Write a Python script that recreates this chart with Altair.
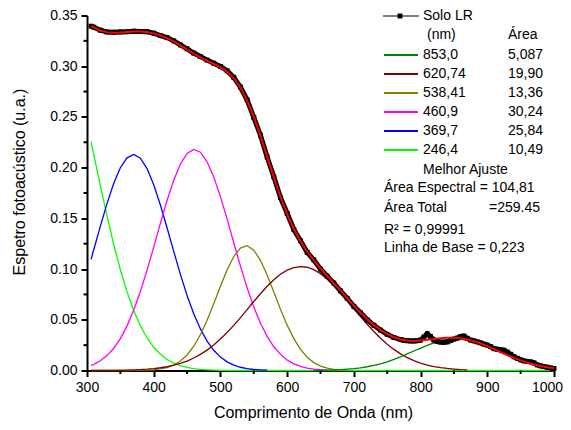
import altair as alt
import pandas as pd

FONT = "Liberation Sans"
W, H = 467, 355

# wavelength grid (nm)
wl = [306, 310, 320, 330, 340, 350, 360, 370, 380, 390, 400, 410, 420, 430, 440, 450,
      460, 470, 480, 490, 500, 510, 520, 530, 540, 550, 560, 570, 580, 590, 600, 610,
      620, 630, 640, 650, 660, 670, 680, 690, 700, 710, 720, 730, 740, 750, 760, 770,
      780, 790, 800, 810, 820, 830, 840, 850, 860, 870, 880, 890, 900, 910, 920, 930,
      940, 950, 960, 970, 980, 990, 1000]

N = None
# Gaussian components
g246 = [0.2256, 0.2133, 0.1823, 0.1524, 0.1245, 0.0993, 0.0775, 0.0591, 0.0441, 0.0321,
        0.0229, 0.0159, 0.0108, 0.0072, 0.0047, 0.0030, 0.0018, 0.0011, 0.0007, 0.0004,
        0.0002, 0.0001] + [0.0] * 49
g369 = [0.1095, 0.1188, 0.1421, 0.1645, 0.1843, 0.1999, 0.2097, 0.2130, 0.2093, 0.1991,
        0.1832, 0.1632, 0.1407, 0.1174, 0.0948, 0.0740, 0.0560, 0.0410, 0.0290, 0.0199,
        0.0132, 0.0085, 0.0053, 0.0032, 0.0018, 0.0010, 0.0006, 0.0003] + [N] * 43
g460 = [0.0050, 0.0061, 0.0096, 0.0147, 0.0219, 0.0315, 0.0440, 0.0594, 0.0779, 0.0989,
        0.1217, 0.1451, 0.1676, 0.1876, 0.2035, 0.2140, 0.2180, 0.2152, 0.2058, 0.1908,
        0.1714, 0.1492, 0.1259, 0.1029, 0.0815, 0.0626, 0.0465, 0.0336, 0.0234, 0.0159,
        0.0104, 0.0066, 0.0041, 0.0024, 0.0014, 0.0008, 0.0004] + [N] * 34
g538 = [0.0, 0.0, 0.0, 0.0, 0.0, 0.0, 0.0, 0.0001, 0.0001, 0.0003,
        0.0007, 0.0015, 0.0029, 0.0054, 0.0093, 0.0153, 0.0239, 0.0353, 0.0495, 0.0659,
        0.0830, 0.0992, 0.1124, 0.1207, 0.1230, 0.1187, 0.1086, 0.0942, 0.0775, 0.0605,
        0.0447, 0.0314, 0.0208, 0.0131, 0.0078, 0.0044, 0.0024, 0.0012, 0.0006, 0.0003] + [N] * 31
g620 = [0.0, 0.0, 0.0001, 0.0001, 0.0001, 0.0002, 0.0004, 0.0006, 0.0009, 0.0013,
        0.0019, 0.0027, 0.0037, 0.0052, 0.0070, 0.0093, 0.0123, 0.0159, 0.0201, 0.0252,
        0.0310, 0.0374, 0.0445, 0.0521, 0.0600, 0.0680, 0.0757, 0.0830, 0.0895, 0.0949,
        0.0990, 0.1015, 0.1025, 0.1018, 0.0994, 0.0955, 0.0903, 0.0839, 0.0768, 0.0691,
        0.0611, 0.0532, 0.0456, 0.0384, 0.0318, 0.0259, 0.0208, 0.0164, 0.0127, 0.0097,
        0.0073, 0.0054, 0.0039, 0.0028, 0.0020, 0.0014, 0.0009, 0.0006] + [N] * 13
g853 = [N] * 34 + [0.0001, 0.0002, 0.0003, 0.0005, 0.0008, 0.0013, 0.0018, 0.0026, 0.0037,
        0.0050, 0.0066, 0.0086, 0.0109, 0.0135, 0.0163, 0.0192, 0.0221, 0.0248, 0.0272,
        0.0291, 0.0304, 0.0310, 0.0308, 0.0299, 0.0284, 0.0263, 0.0237, 0.0210, 0.0180,
        0.0152, 0.0124, 0.0100, 0.0078, 0.0059, 0.0044, 0.0032, 0.0023]

# best fit (red)
fit = [0.3395, 0.3382, 0.3350, 0.3336, 0.3330, 0.3332, 0.3338, 0.3342, 0.3343, 0.3337,
       0.3324, 0.3304, 0.3277, 0.3245, 0.3205, 0.3163, 0.3124, 0.3087, 0.3052, 0.3022,
       0.2988, 0.2944, 0.2881, 0.2789, 0.2663, 0.2503, 0.2314, 0.2111, 0.1905, 0.1713,
       0.1541, 0.1395, 0.1274, 0.1173, 0.1086, 0.1007, 0.0934, 0.0858, 0.0790, 0.0715,
       0.0640, 0.0570, 0.0505, 0.0448, 0.0398, 0.0358, 0.0328, 0.0306, 0.0295, 0.0292,
       0.0296, 0.0303, 0.0311, 0.0319, 0.0324, 0.0324, 0.0317, 0.0305, 0.0288, 0.0266,
       0.0239, 0.0211, 0.0180, 0.0152, 0.0124, 0.0100, 0.0078, 0.0059, 0.0044, 0.0032,
       0.0023]

# measured spectrum "Solo LR"
data_wl = [306, 310, 320, 330, 340, 350, 360, 370, 380, 390, 400, 410, 420, 430, 440, 450,
           460, 470, 480, 490, 500, 510, 520, 530, 540, 550, 560, 570, 580, 590, 600, 610,
           620, 630, 640, 650, 660, 670, 680, 690, 700, 710, 720, 730, 740, 750, 760, 770,
           775, 780, 785, 790, 795, 800, 805, 810, 815, 820, 825, 830, 835, 840, 845, 850,
           855, 860, 865, 870, 875, 880, 885, 890, 895, 900, 905, 910, 915, 920, 925, 930,
           935, 940, 945, 950, 955, 960, 965, 970, 975, 980, 985, 990, 995, 1000]
data_val = [0.3395, 0.3385, 0.3355, 0.3338, 0.3335, 0.3338, 0.3340, 0.3345, 0.3342, 0.3340,
            0.3326, 0.3302, 0.3282, 0.3250, 0.3210, 0.3172, 0.3130, 0.3095, 0.3060, 0.3030,
            0.2998, 0.2955, 0.2890, 0.2795, 0.2668, 0.2495, 0.2320, 0.2105, 0.1910, 0.1705,
            0.1550, 0.1390, 0.1280, 0.1165, 0.1090, 0.1000, 0.0930, 0.0862, 0.0785, 0.0712,
            0.0632, 0.0568, 0.0500, 0.0446, 0.0398, 0.0356, 0.0325, 0.0305,
            0.0298, 0.0294, 0.0292, 0.0292, 0.0294, 0.0300, 0.0330, 0.0362, 0.0335, 0.0300,
            0.0285, 0.0280, 0.0278, 0.0282, 0.0295, 0.0310, 0.0320, 0.0335, 0.0340, 0.0318,
            0.0300, 0.0292, 0.0282, 0.0272, 0.0260, 0.0250, 0.0235, 0.0215, 0.0210, 0.0205,
            0.0200, 0.0182, 0.0160, 0.0135, 0.0120, 0.0105, 0.0095, 0.0090, 0.0085, 0.0075,
            0.0055, 0.0045, 0.0038, 0.0032, 0.0025, 0.0020]

x_ticks = [300, 400, 500, 600, 700, 800, 900, 1000]
x_minor = [350, 450, 550, 650, 750, 850, 950]
y_ticks = [0.0, 0.05, 0.10, 0.15, 0.20, 0.25, 0.30, 0.35]
y_minor = [0.025, 0.075, 0.125, 0.175, 0.225, 0.275, 0.325]

peaks = ["853,0", "620,74", "538,41", "460,9", "369,7", "246,4"]
areas = ["5,087", "19,90", "13,36", "30,24", "25,84", "10,49"]
colors = ["#008000", "#800000", "#808000", "#FF00FF", "#0000FF", "#00FF00"]

xs = alt.Scale(domain=[300, 1000], nice=False, zero=False)
ys = alt.Scale(domain=[0, 0.35], nice=False, zero=False)

common = dict(domainColor="black", domainWidth=2, tickColor="black", tickWidth=2,
              tickSize=6, labelFont=FONT, labelFontSize=14, labelColor="black",
              titleFont=FONT, titleFontSize=16, titleFontWeight="normal",
              titleColor="black", grid=False, labelFlush=False, labelOverlap=False)
xaxis = alt.Axis(values=x_ticks, format="d", title="Comprimento de Onda (nm)",
                 labelPadding=4, titleX=226, titleY=34,
                 labelOffset={"condition": {"test": "datum.value == 1000", "value": -7},
                              "value": 0},
                 **common)
yaxis = alt.Axis(values=y_ticks, format=".2f", title="Espetro fotoacústico (u.a.)",
                 labelPadding=4, titleX=-60, titleY=166, **common)


def xenc(f):
    return alt.X(f, scale=xs, axis=xaxis)


def yenc(f):
    return alt.Y(f, scale=ys, axis=yaxis)


def comp(vals, color):
    df = pd.DataFrame({"wl": wl, "v": vals}).dropna()
    return alt.Chart(df).mark_line(color=color, strokeWidth=1.3).encode(
        x=xenc("wl:Q"), y=yenc("v:Q"))


layers = [
    comp(g246, "#00FF00"),
    comp(g369, "#0000FF"),
    comp(g460, "#FF00FF"),
    comp(g538, "#808000"),
    comp(g620, "#800000"),
    comp(g853, "#008000"),
]

ddf = pd.DataFrame({"wl": data_wl, "v": data_val})
layers.append(alt.Chart(ddf).mark_line(color="black", strokeWidth=5).encode(
    x=xenc("wl:Q"), y=yenc("v:Q")))
layers.append(alt.Chart(ddf).mark_square(color="black", size=24, opacity=1).encode(
    x=xenc("wl:Q"), y=yenc("v:Q")))

fdf = pd.DataFrame({"wl": wl, "v": fit})
layers.append(alt.Chart(fdf).mark_line(color="#FF0000", strokeWidth=2).encode(
    x=xenc("wl:Q"), y=yenc("v:Q")))

# minor ticks
layers.append(alt.Chart(pd.DataFrame({"m": x_minor})).mark_rule(color="black", strokeWidth=2).encode(
    x=xenc("m:Q"), y=alt.value(H), y2=alt.value(H + 3.5)))
layers.append(alt.Chart(pd.DataFrame({"m": y_minor})).mark_rule(color="black", strokeWidth=2).encode(
    y=yenc("m:Q"), x=alt.value(-3.5), x2=alt.value(0)))

# legend block
row_y = [39.5, 58.5, 77.5, 96.5, 115.5, 134.5]
leg_lines = pd.DataFrame({"x1": [297] * 6, "x2": [331] * 6, "y": row_y, "c": colors})
layers.append(alt.Chart(leg_lines).mark_rule(strokeWidth=2).encode(
    x=alt.X("x1:Q", scale=None), x2="x2:Q", y=alt.Y("y:Q", scale=None),
    color=alt.Color("c:N", scale=None)))
layers.append(alt.Chart(pd.DataFrame({"a": [0]})).mark_rule(color="black", strokeWidth=1).encode(
    x=alt.value(296), x2=alt.value(332), y=alt.value(0.5)))
layers.append(alt.Chart(pd.DataFrame({"a": [0]})).mark_square(color="black", size=25, opacity=1).encode(
    x=alt.value(313), y=alt.value(0.5)))

texts = (["Solo LR", "(nm)", "Área"] + peaks + areas +
         ["Melhor Ajuste", "Área Espectral = 104,81", "Área Total", "=259.45",
          "R² = 0,99991", "Linha de Base = 0,223"])
tx = [336, 340, 421] + [336] * 6 + [421] * 6 + [336, 297, 297, 402, 297, 297]
ty = [0.5, 19.5, 19.5] + row_y + row_y + [154.5, 172.5, 192.5, 192.5, 214, 232.5]
tdf = pd.DataFrame({"t": texts, "px": tx, "py": ty})
layers.append(alt.Chart(tdf).mark_text(font=FONT, fontSize=14, align="left",
                                       baseline="middle", color="black").encode(
    x=alt.X("px:Q", scale=None), y=alt.Y("py:Q", scale=None), text="t:N"))

chart = alt.layer(*layers).properties(
    width=W, height=H,
    autosize=alt.AutoSizeParams(type="none"),
    padding={"left": 79, "top": 7.5, "right": 9, "bottom": 51},
).configure_view(strokeWidth=0)

chart.save("out.html", embed_options={"renderer": "svg", "actions": False})
